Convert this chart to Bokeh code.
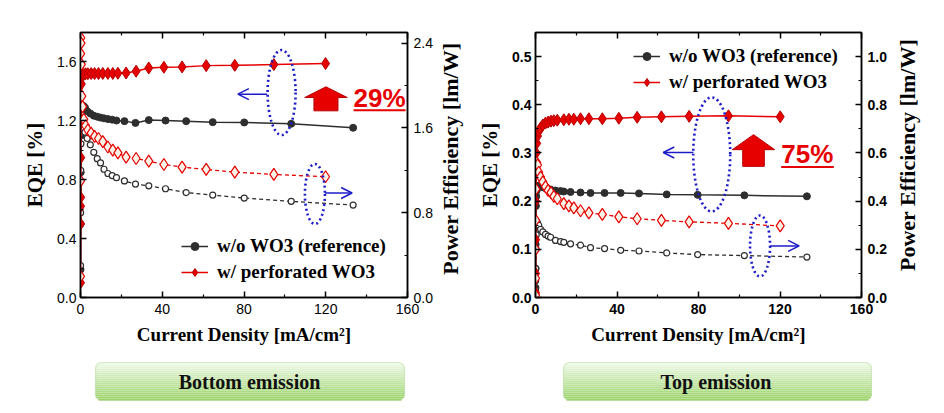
import math
from bokeh.plotting import figure
from bokeh.layouts import column, row
from bokeh.models import (Range1d, LinearAxis, FixedTicker, PrintfTickFormatter,
                          CustomJSTickFormatter, Legend, LegendItem, Label, Arrow,
                          OpenHead, BoxAnnotation)
from bokeh.core.properties import value
from bokeh.embed import file_html
from bokeh.resources import INLINE

# ---------------- data ----------------
# Bottom emission
BE_REF_J = [0.02, 0.05, 0.1, 0.2, 0.35, 0.6, 1.0, 1.5, 2.2, 3.3, 4.8, 6.5, 8.2, 9.8, 11.5,
            13.4, 15.5, 17.6, 21.5, 26.9, 33.4, 41.6, 51.7, 64.7, 80.1, 103.1, 133.4]
BE_REF_EQE = [0.19, 0.5, 0.85, 1.1, 1.22, 1.28, 1.30, 1.30, 1.29, 1.265, 1.25, 1.235, 1.228,
              1.222, 1.217, 1.212, 1.208, 1.202, 1.198, 1.186, 1.205, 1.202, 1.198, 1.191,
              1.189, 1.18, 1.153]
BE_REF_PE = [0.3, 0.8, 1.2, 1.45, 1.55, 1.58, 1.59, 1.58, 1.56, 1.50, 1.44, 1.37, 1.31, 1.27,
             1.21, 1.17, 1.15, 1.13, 1.10, 1.07, 1.054, 1.026, 0.99, 0.966, 0.938, 0.907, 0.872]

BE_PERF_J = [0.01, 0.03, 0.06, 0.1, 0.15, 0.25, 0.4, 0.65, 1.0, 1.6, 2.5, 3.6, 5.2, 6.9, 8.8,
             10.9, 13.4, 15.8, 18.3, 22.3, 27.2, 33.4, 40.8, 49.7, 61.5, 75.5, 94.6, 119.9]
BE_PERF_EQE = [0.1, 0.5, 0.62, 0.68, 0.95, 1.3, 1.45, 1.5, 1.51, 1.515, 1.52, 1.52, 1.521,
               1.521, 1.521, 1.522, 1.522, 1.522, 1.523, 1.525, 1.537, 1.559, 1.564, 1.566,
               1.575, 1.577, 1.582, 1.589]
BE_PERF_PE = [0.2, 1.1, 1.8, 2.3, 2.45, 2.4, 2.2, 1.9, 1.8, 1.68, 1.62, 1.58, 1.55, 1.52, 1.50,
              1.47, 1.42, 1.39, 1.365, 1.324, 1.311, 1.286, 1.255, 1.23, 1.208, 1.183, 1.161,
              1.139]

# Top emission
TE_REF_J = [0.01, 0.03, 0.06, 0.1, 0.2, 0.35, 0.6, 1.0, 1.6, 2.5, 3.6, 4.9, 6.2, 7.4, 9.8,
            12.3, 13.9, 17.2, 22.1, 27.0, 33.9, 41.8, 50.8, 64.4, 79.6, 102.5, 133.2]
TE_REF_EQE = [0.02, 0.06, 0.11, 0.15, 0.19, 0.21, 0.222, 0.23, 0.232, 0.231, 0.229, 0.227,
              0.225, 0.224, 0.222, 0.221, 0.220, 0.219, 0.218, 0.217, 0.217, 0.217, 0.216,
              0.214, 0.213, 0.212, 0.21]
TE_REF_PE = [0.01, 0.03, 0.07, 0.12, 0.2, 0.26, 0.3, 0.31, 0.30, 0.283, 0.272, 0.262, 0.255,
             0.250, 0.237, 0.232, 0.229, 0.223, 0.217, 0.207, 0.203, 0.196, 0.193, 0.185,
             0.178, 0.174, 0.168]

TE_PERF_J = [0.01, 0.03, 0.06, 0.1, 0.2, 0.35, 0.6, 1.0, 1.6, 2.5, 3.6, 4.9, 6.2, 7.6, 9.0,
             10.7, 13.9, 16.4, 18.8, 22.1, 26.2, 32.8, 40.9, 49.9, 61.8, 75.4, 94.7, 120.1]
TE_PERF_EQE = [0.01, 0.05, 0.12, 0.2, 0.26, 0.3, 0.32, 0.335, 0.345, 0.352, 0.358, 0.362,
               0.364, 0.366, 0.367, 0.368, 0.369, 0.37, 0.37, 0.371, 0.371, 0.371, 0.372,
               0.374, 0.375, 0.376, 0.377, 0.375]
TE_PERF_PE = [0.01, 0.08, 0.2, 0.32, 0.45, 0.53, 0.56, 0.55, 0.52, 0.5, 0.48, 0.46, 0.445,
              0.435, 0.42, 0.41, 0.39, 0.38, 0.372, 0.36, 0.351, 0.345, 0.335, 0.327, 0.32,
              0.314, 0.308, 0.297]

# ticks
X_TICKS = [0, 40, 80, 120, 160]
X_MINOR = [20, 60, 100, 140]
BE_EQE_TICKS = [0.0, 0.4, 0.8, 1.2, 1.6]
BE_EQE_MINOR = [0.2, 0.6, 1.0, 1.4, 1.8]
BE_PE_TICKS = [0.0, 0.8, 1.6, 2.4]
BE_PE_MINOR = [0.4, 1.2, 2.0]
TE_EQE_TICKS = [0.0, 0.1, 0.2, 0.3, 0.4, 0.5]
TE_EQE_MINOR = [0.05, 0.15, 0.25, 0.35, 0.45]
TE_PE_TICKS = [0.0, 0.2, 0.4, 0.6, 0.8, 1.0]
TE_PE_MINOR = [0.1, 0.3, 0.5, 0.7, 0.9]

LEGEND_LABELS = ["w/o WO3 (reference)", "w/ perforated WO3"]
X_LABEL = "Current Density [mA/cm\u00b2]"
Y_LABEL = "EQE [%]"
Y2_LABEL = "Power Efficiency [lm/W]"
PANEL_TITLES = ["Bottom emission", "Top emission"]

# ---------------- styling ----------------
SERIF = "Liberation Serif"
SANS = "Liberation Sans"
DARK = "#2e2e2e"
RED = "#e60000"
DARKRED = "#b80000"
BLUE = "#1c1cc8"
OPEN_FILL = "#f6f3e6"
TOP_H = 355


def style_axis(ax, ticks, minor, fmt, bold, standoff):
    ax.ticker = FixedTicker(ticks=ticks, minor_ticks=minor)
    ax.formatter = PrintfTickFormatter(format=fmt)
    ax.major_tick_in = 6
    ax.major_tick_out = 0
    ax.minor_tick_in = 3
    ax.minor_tick_out = 0
    ax.axis_line_width = 1.5
    ax.major_tick_line_width = 1.5
    ax.minor_tick_line_width = 1.2
    ax.major_label_text_font = SANS
    ax.major_label_text_font_size = "14px"
    ax.major_label_text_font_style = "bold" if bold else "normal"
    ax.major_label_text_color = "black"
    ax.major_label_standoff = standoff


def style_label(ax, text, size, standoff):
    ax.axis_label = text
    ax.axis_label_text_font = SERIF
    ax.axis_label_text_font_style = "bold"
    ax.axis_label_text_font_size = size
    ax.axis_label_text_color = "black"
    ax.axis_label_standoff = standoff


def make_panel(ref, perf, eqe_max, pe_max, eqe_ticks, eqe_minor, pe_ticks, pe_minor,
               frame_w, mb_left, mb_right, bold, legend_xy, ann):
    p = figure(frame_width=frame_w, frame_height=265,
               x_range=Range1d(0, 160), y_range=Range1d(0, eqe_max),
               min_border_left=mb_left, min_border_right=mb_right,
               min_border_top=32, min_border_bottom=TOP_H - 32 - 265,
               output_backend="svg", toolbar_location=None,
               background_fill_color="white", border_fill_color="white",
               outline_line_color="black", outline_line_width=1.5)
    p.extra_y_ranges = {"pe": Range1d(0, pe_max)}
    p.xgrid.grid_line_color = None
    p.ygrid.grid_line_color = None

    style_axis(p.xaxis[0], X_TICKS, X_MINOR, "%d", bold, 6)
    style_label(p.xaxis[0], X_LABEL, "19px", 7)

    style_axis(p.yaxis[0], eqe_ticks, eqe_minor, "%.1f", bold, 4)
    style_label(p.yaxis[0], Y_LABEL, "21px", 7)

    top = LinearAxis()
    style_axis(top, X_TICKS, X_MINOR, "%d", bold, 0)
    top.formatter = CustomJSTickFormatter(code="return ''")
    p.add_layout(top, "above")

    right = LinearAxis(y_range_name="pe")
    style_axis(right, pe_ticks, pe_minor, "%.1f", bold, 6)
    p.add_layout(right, "right")

    (rj, reqe, rpe), (pj, peqe, ppe) = ref, perf
    # reference device
    l_ref = p.line(rj, reqe, line_color=DARK, line_width=1.5)
    s_ref = p.scatter(rj, reqe, marker="circle", size=7, fill_color=DARK, line_color=DARK)
    p.line(rj, rpe, y_range_name="pe", line_color=DARK, line_width=1.3, line_dash="4 3")
    p.scatter(rj, rpe, y_range_name="pe", marker="circle", size=6, fill_color="white",
              line_color=DARK, line_width=1.2)
    # perforated device
    l_perf = p.line(pj, peqe, line_color=RED, line_width=1.5)
    s_perf = p.scatter(pj, peqe, marker="diamond", size=12, fill_color=RED, line_color=DARKRED,
                       line_width=1)
    p.line(pj, ppe, y_range_name="pe", line_color=RED, line_width=1.3, line_dash="4 3")
    p.scatter(pj, ppe, y_range_name="pe", marker="diamond", size=12, fill_color=OPEN_FILL,
              line_color=RED, line_width=1.2)

    legend = Legend(items=[LegendItem(label=LEGEND_LABELS[0], renderers=[l_ref, s_ref]),
                           LegendItem(label=LEGEND_LABELS[1], renderers=[l_perf, s_perf])],
                    location=legend_xy, orientation="vertical",
                    border_line_color=None, background_fill_alpha=0,
                    padding=0, margin=0, spacing=4, glyph_width=27, glyph_height=20,
                    label_height=20, label_standoff=9,
                    label_text_font=SERIF, label_text_font_style="bold",
                    label_text_font_size="19px", label_text_color="black")
    p.add_layout(legend, "center")

    # annotations
    dxp = 160.0 / frame_w
    dyp = eqe_max / 265.0
    for (cx, cy, w, h) in ann["ellipses"]:
        p.ellipse(x=[cx], y=[cy], width=[w * dxp], height=[h * dyp], fill_color=None,
                  line_color=BLUE, line_width=2.6, line_dash="2 3")
    for (x0, y0, x1, y1) in ann["arrows"]:
        p.add_layout(Arrow(end=OpenHead(size=11, line_color=BLUE, line_width=1.5),
                           x_start=x0, y_start=y0, x_end=x1, y_end=y1,
                           line_color=BLUE, line_width=1.5))
    bx, by_apex, head_h, shaft_h, head_hw, shaft_hw = ann["block"]
    yb = by_apex - head_h * dyp
    ys = yb - shaft_h * dyp
    xs_poly = [bx, bx + head_hw * dxp, bx + shaft_hw * dxp, bx + shaft_hw * dxp,
               bx - shaft_hw * dxp, bx - shaft_hw * dxp, bx - head_hw * dxp]
    ys_poly = [by_apex, yb, yb, ys, ys, yb, yb]
    p.patch(xs_poly, ys_poly, fill_color=RED, line_color=DARKRED, line_width=1)
    tx, ty_mid, txt, ulen, u_drop = ann["pct"]
    p.add_layout(Label(x=tx, y=ty_mid, text=txt, text_font=SANS, text_font_style="bold",
                       text_font_size="26px", text_color=RED, text_baseline="middle",
                       text_align="left"))
    uy = ty_mid - u_drop * dyp
    p.segment(x0=[tx], y0=[uy], x1=[tx + ulen * dxp], y1=[uy],
              line_color=RED, line_width=2)
    return p


def make_side_label(width, cx, cy_from_top):
    """Narrow strip to the right of a panel carrying the rotated right-axis title."""
    s = figure(width=width, height=TOP_H, x_range=Range1d(0, width),
               y_range=Range1d(0, TOP_H), x_axis_type=None, y_axis_type=None,
               toolbar_location=None, output_backend="svg", min_border=0,
               outline_line_color=None, background_fill_color="white",
               border_fill_color="white")
    s.text(x=[cx], y=[TOP_H - cy_from_top], text=[Y2_LABEL], angle=math.pi / 2,
           text_font=value(SERIF), text_font_style="bold", text_font_size="22px",
           text_align="center", text_baseline="middle", text_color="black")
    return s


ann_be = {
    "ellipses": [(98.4, 1.392, 28, 85), (114.7, 0.703, 20, 60)],
    "arrows": [(91.3, 1.381, 77.0, 1.381), (119.6, 0.71, 132.9, 0.71)],
    "block": (120.1, 1.431, 10.7, 13.3, 21.3, 12.0),
    "pct": (133.6, 1.353, "29%", 52, 12),
}
ann_te = {
    "ellipses": [(86.5, 0.297, 37, 114), (110.2, 0.107, 20, 61)],
    "arrows": [(77.5, 0.301, 62.7, 0.301), (115.1, 0.107, 129.4, 0.107)],
    "block": (107.0, 0.338, 15.0, 16.7, 21.2, 10.8),
    "pct": (120.6, 0.298, "75%", 52.6, 13),
}

p1 = make_panel((BE_REF_J, BE_REF_EQE, BE_REF_PE), (BE_PERF_J, BE_PERF_EQE, BE_PERF_PE),
                1.8, 2.5, BE_EQE_TICKS, BE_EQE_MINOR, BE_PE_TICKS, BE_PE_MINOR,
                327, 80, 28, False, (101, 14), ann_be)
s1 = make_side_label(35, 15, 169)
p2 = make_panel((TE_REF_J, TE_REF_EQE, TE_REF_PE), (TE_PERF_J, TE_PERF_EQE, TE_PERF_PE),
                0.55, 1.1, TE_EQE_TICKS, TE_EQE_MINOR, TE_PE_TICKS, TE_PE_MINOR,
                326, 65, 28, True, (98, 204), ann_te)
s2 = make_side_label(47, 17.7, 164)

# ---------------- bottom caption boxes ----------------
p3 = figure(width=936, height=50, x_range=Range1d(0, 936), y_range=Range1d(0, 50),
            x_axis_type=None, y_axis_type=None, toolbar_location=None,
            output_backend="svg", min_border=0, outline_line_color=None,
            background_fill_color="white", border_fill_color="white")


def hex_mix(c0, c1, t):
    a = [int(c0[i:i + 2], 16) for i in (1, 3, 5)]
    b = [int(c1[i:i + 2], 16) for i in (1, 3, 5)]
    return "#%02x%02x%02x" % tuple(round(a[k] + (b[k] - a[k]) * t) for k in range(3))


boxes = [(95, 404), (563, 871)]
n = 19
b_bot, b_top = 5.0, 43.0
for (bl, br) in boxes:
    lefts, rights, tops, bots, cols = [], [], [], [], []
    for i in range(n):
        y0 = b_top - (b_top - b_bot) * i / n
        y1 = b_top - (b_top - b_bot) * (i + 1) / n
        inset = 3 if i in (0, n - 1) else (1 if i in (1, n - 2) else 0)
        lefts.append(bl + inset); rights.append(br - inset)
        tops.append(y0); bots.append(y1)
        cols.append(hex_mix("#eef9e6", "#9cd36b", i / (n - 1)))
    p3.quad(left=lefts, right=rights, top=tops, bottom=bots, fill_color=cols, line_color=None)
    p3.add_layout(BoxAnnotation(left=bl, right=br, bottom=b_bot, top=b_top, fill_color=None,
                                line_color="#8cc46a", line_width=1.2, border_radius=6))

p3.text(x=[249, 715.5], y=[23.3, 23.3], text=PANEL_TITLES, text_font=value(SERIF),
        text_font_style="bold", text_font_size="20px", text_align="center",
        text_baseline="middle", text_color="#111111")

layout = column(row(p1, s1, p2, s2), p3)
open("out.html", "w").write(file_html(layout, INLINE))
